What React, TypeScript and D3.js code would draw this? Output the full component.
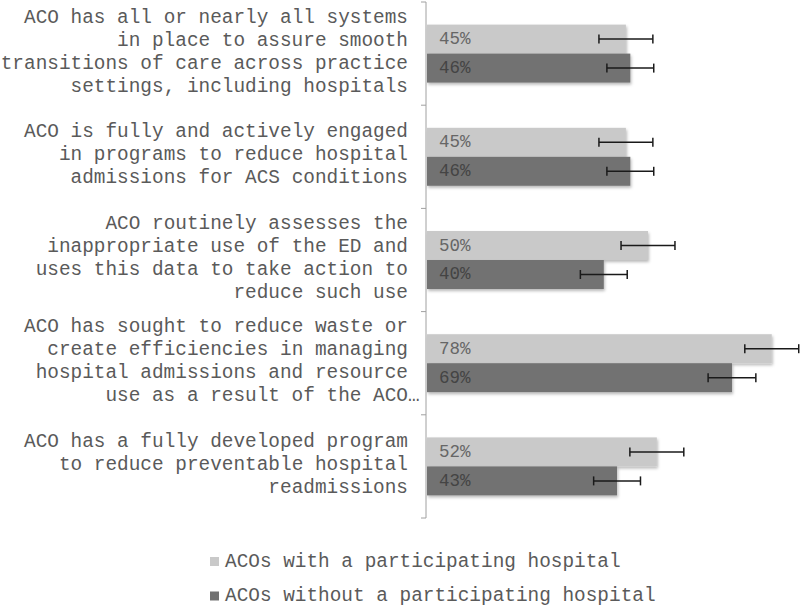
import React from "react";
import * as d3 from "d3";

const categories: string[][] = [
  ["ACO has all or nearly all systems", "in place to assure smooth", "transitions of care across practice", "settings, including hospitals"],
  ["ACO is fully and actively engaged", "in programs to reduce hospital", "admissions for ACS conditions"],
  ["ACO routinely assesses the", "inappropriate use of the ED and", "uses this data to take action to", "reduce such use"],
  ["ACO has sought to reduce waste or", "create efficiencies in managing", "hospital admissions and resource", "use as a result of the ACO…"],
  ["ACO has a fully developed program", "to reduce preventable hospital", "readmissions"],
];
const seriesNames = ["ACOs with a participating hospital", "ACOs without a participating hospital"];
const withHospital = [45, 45, 50, 78, 52];
const withoutHospital = [46, 46, 40, 69, 43];
const withHospitalErr = [6.1, 6.1, 6.1, 6.1, 6.1];
const withoutHospitalErr = [5.3, 5.3, 5.3, 5.4, 5.3];
const colors = ["#c9c9c9", "#727272"];

const W = 800;
const H = 606;
const FONT = "'Liberation Mono', 'Courier New', monospace";

export default function App() {
  const x = d3.scaleLinear().domain([0, 100]).range([427, 869]);
  const y = d3
    .scaleBand<number>()
    .domain(categories.map((_, i) => i))
    .range([2, 518])
    .paddingInner(0)
    .paddingOuter(0);
  const inner = d3.scaleBand<number>().domain([0, 1]).range([0, y.bandwidth()]).paddingInner(0).paddingOuter(0.78);
  const series = [
    { vals: withHospital, errs: withHospitalErr },
    { vals: withoutHospital, errs: withoutHospitalErr },
  ];
  const boundaries = d3.range(categories.length + 1).map((i) => 2 + i * y.step());
  const lineH = 23;
  const charW = 19.4 * 0.6;

  return (
    <svg width={W} height={H} style={{ position: "absolute", left: 0, top: 0, background: "#fff" }}>
      <defs>
        <filter id="sh" x="-5%" y="-20%" width="115%" height="160%">
          <feDropShadow dx="1" dy="2" stdDeviation="1.5" floodColor="#000" floodOpacity="0.28" />
        </filter>
      </defs>
      {/* bars */}
      {categories.map((_, ci) => (
        <g key={ci}>
          {series.map((s, si) => {
            const by = (y(ci) as number) + (inner(si) as number);
            const bh = inner.bandwidth();
            return (
              <rect key={si} x={x(0)} y={by} width={x(s.vals[ci]) - x(0)} height={bh} fill={colors[si]} filter="url(#sh)" />
            );
          })}
        </g>
      ))}
      {/* labels & error bars */}
      {categories.map((_, ci) => (
        <g key={"e" + ci}>
          {series.map((s, si) => {
            const by = (y(ci) as number) + (inner(si) as number);
            const cy = by + inner.bandwidth() / 2;
            const lo = x(s.vals[ci] - s.errs[ci]);
            const hi = x(s.vals[ci] + s.errs[ci]);
            return (
              <g key={si}>
                <text x={x(0) + 12} y={cy} dominantBaseline="central" fontFamily={FONT} fontSize={17.5} fill={si === 0 ? "#666" : "#444"}>
                  {s.vals[ci] + "%"}
                </text>
                <line x1={lo} x2={hi} y1={cy} y2={cy} stroke="#1a1a1a" strokeWidth={1.5} />
                <line x1={lo} x2={lo} y1={cy - 4.5} y2={cy + 4.5} stroke="#1a1a1a" strokeWidth={1.5} />
                <line x1={hi} x2={hi} y1={cy - 4.5} y2={cy + 4.5} stroke="#1a1a1a" strokeWidth={1.5} />
              </g>
            );
          })}
        </g>
      ))}
      {/* axis */}
      <line x1={426} x2={426} y1={boundaries[0]} y2={boundaries[boundaries.length - 1]} stroke="#a0a0a0" strokeWidth={1} />
      {boundaries.map((b, i) => (
        <line key={i} x1={421} x2={426} y1={b} y2={b} stroke="#a0a0a0" strokeWidth={1} />
      ))}
      {/* category labels */}
      {categories.map((lines, ci) => {
        const c = (y(ci) as number) + y.bandwidth() / 2 - 1.5;
        const start = c - ((lines.length - 1) * lineH) / 2;
        return (
          <g key={"c" + ci}>
            {lines.map((ln, li) => (
              <text
                key={li}
                x={ln.endsWith("…") ? 408 + charW : 408}
                y={start + li * lineH}
                textAnchor="end"
                dominantBaseline="central"
                fontFamily={FONT}
                fontSize={19.4}
                fill="#5a5a5a"
              >
                {ln}
              </text>
            ))}
          </g>
        );
      })}
      {/* legend */}
      {seriesNames.map((n, i) => {
        const ly = 561.5 + i * 34.5;
        return (
          <g key={"l" + i}>
            <rect x={210} y={ly - 4.5} width={9} height={9} fill={colors[i]} />
            <text x={225} y={ly} dominantBaseline="central" fontFamily={FONT} fontSize={19.4} fill="#5a5a5a">
              {n}
            </text>
          </g>
        );
      })}
    </svg>
  );
}
